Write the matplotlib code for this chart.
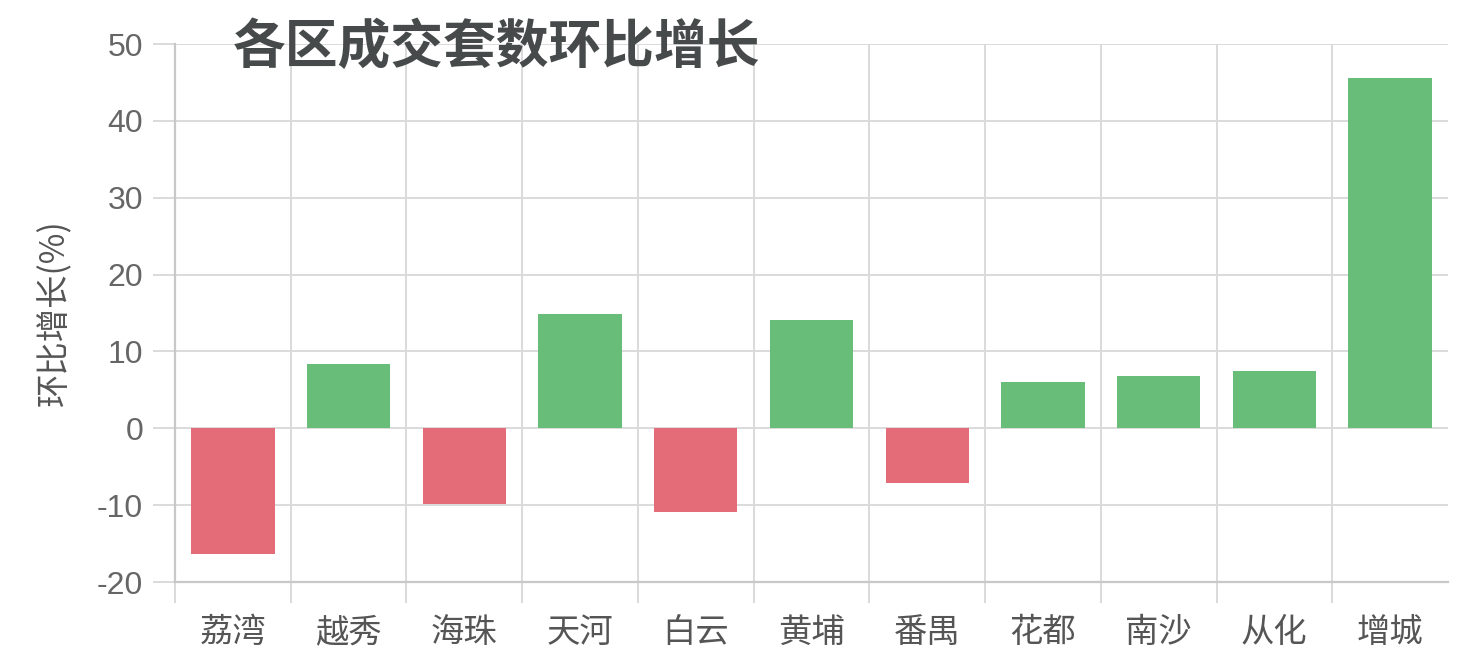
import matplotlib
matplotlib.use("Agg")
import matplotlib.pyplot as plt
import numpy as np

categories = ["荔湾", "越秀", "海珠", "天河", "白云", "黄埔", "番禺", "花都", "南沙", "从化", "增城"]
values = [-16.4, 8.4, -9.9, 14.9, -10.9, 14.1, -7.1, 6.0, 6.8, 7.4, 45.6]
yticks = [-20, -10, 0, 10, 20, 30, 40, 50]
title = "各区成交套数环比增长"
ylabel = "环比增长(%)"

GREEN = "#68be78"
RED = "#e46c79"
GRID = "#dadada"

fig = plt.figure(figsize=(14.81, 6.67), dpi=100)
ax = fig.add_axes([175/1481, 1-582/667, (1448-175)/1481, (582-44)/667])

x = np.arange(len(categories))
colors = [GREEN if v >= 0 else RED for v in values]
ax.bar(x, values, width=0.72, color=colors, zorder=3)

ax.set_xlim(-0.5, len(categories) - 0.5)
ax.set_ylim(-20, 50)

ax.set_yticks(yticks)
ax.set_yticklabels([str(t) for t in yticks], family=["Liberation Sans", "DejaVu Sans"],
                   fontsize=23, color="#666666")
ax.tick_params(axis="y", length=16, width=1.4, color=GRID, pad=7)

# category boundaries as major ticks (grid), labels at minor ticks
ax.set_xticks(np.arange(len(categories) + 1) - 0.5)
ax.set_xticklabels([])
ax.set_xticks(x, minor=True)
ax.set_xticklabels(categories, minor=True, family=["Noto Sans CJK SC", "DejaVu Sans"],
                   fontsize=24, color="#555555")
ax.tick_params(axis="x", which="major", length=15, width=1.4, color=GRID)
ax.tick_params(axis="x", which="minor", length=0, pad=24)

ax.grid(True, which="major", color=GRID, linewidth=1.4, zorder=0)
ax.set_axisbelow(True)

for s in ["top", "right"]:
    ax.spines[s].set_visible(False)
for s in ["left", "bottom"]:
    ax.spines[s].set_color("#c8c8c8")
    ax.spines[s].set_linewidth(1.6)

# hide the rightmost vertical gridline/tick
xt = ax.xaxis.get_major_ticks()
xt[-1].gridline.set_visible(False)
xt[-1].tick1line.set_visible(False)

ax.set_ylabel(ylabel, family=["Noto Sans CJK SC", "DejaVu Sans"], fontsize=24,
              color="#555555", labelpad=18)

fig.text(233/1481, 1-47/667, title, family=["Noto Sans CJK SC", "DejaVu Sans"],
         fontsize=38, fontweight="bold", color="#464a4a", va="center", ha="left")

fig.savefig("out.png", dpi=100, facecolor="white")
